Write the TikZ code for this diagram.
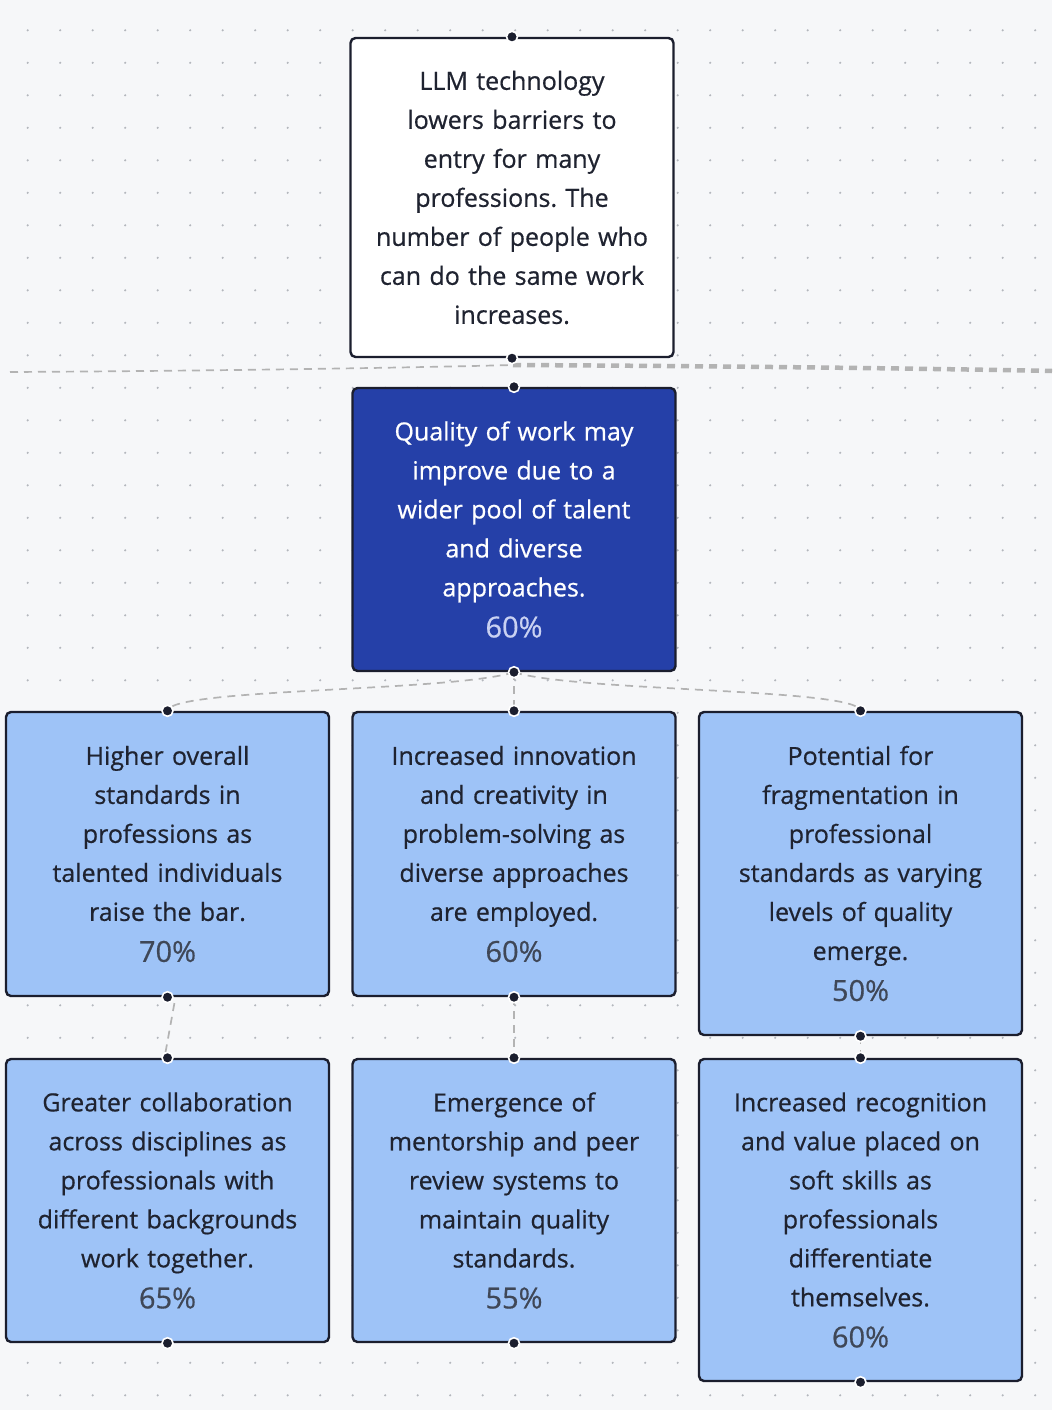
\documentclass[tikz,border=0pt]{standalone}
\usepackage{fontspec}
\setmainfont{Open Sans}
\newfontfamily\cardface[FakeBold=0.6]{Open Sans}
\frenchspacing
\definecolor{canvas}{HTML}{F6F7F9}
\definecolor{gridgrey}{HTML}{B4B7BD}
\definecolor{cardline}{HTML}{1B1E2E}
\definecolor{deepblue}{HTML}{2540A8}
\definecolor{paleblue}{HTML}{9EC3F7}
\definecolor{inkdark}{HTML}{1F2330}
\definecolor{pctgrey}{HTML}{3F4757}
\definecolor{pctlight}{HTML}{C9D1F2}
\definecolor{linkgrey}{HTML}{B3B3B3}
\newcommand{\cardfont}{\cardface\fontsize{25}{39}\selectfont}
\newcommand{\pct}[2]{\\[2pt]{\color{#1}\fontsize{29}{39}\selectfont #2}}
\tikzset{
    card/.style={draw=cardline, line width=2.4pt, rounded corners=5pt, minimum width=323pt,
        text width=315pt, align=center, inner sep=0pt, font=\cardfont},
    rootcard/.style={card, fill=white, text=inkdark},
    maincard/.style={card, fill=deepblue, text=white},
    subcard/.style={card, fill=paleblue, text=inkdark},
    anchordot/.style={circle, fill=cardline, draw=white, line width=1.6pt, minimum size=11pt, inner sep=0pt},
    link/.style={draw=linkgrey, line width=1.7pt, dash pattern=on 8pt off 6pt},
    widelink/.style={draw=linkgrey, line width=4.5pt, dash pattern=on 8pt off 6pt},
}
\begin{document}
\begin{tikzpicture}[x=1pt, y=-1pt]
                \useasboundingbox (0,0) rectangle (1052,1410);
                \fill[canvas] (0,0) rectangle (1052,1410);
                % dotted canvas
                \foreach \gx in {0,...,31} {
                        \foreach \gy in {0,...,42} {
                                \fill[gridgrey] ({27.7+32.5*\gx},{30.3+32.5*\gy}) circle (1.2pt);
                            }
                    }

                \node[rootcard, minimum height=319pt] (premise) at (512,197.5)
                    {LLM technology\\lowers barriers to\\entry for many\\professions. The\\number of people who\\can do the same work\\increases.};
                \node[maincard, minimum height=283pt] (quality) at (514,529.5)
                    {Quality of work may\\improve due to a\\wider pool of talent\\and diverse\\approaches.\pct{pctlight}{60\%}};

                \node[subcard, minimum height=284pt] (higher) at (167.5,854)
                    {Higher overall\\standards in\\professions as\\talented individuals\\raise the bar.\pct{pctgrey}{70\%}};
                \node[subcard, minimum height=284pt] (innovation) at (514,854)
                    {Increased innovation\\and creativity in\\problem-solving as\\diverse approaches\\are employed.\pct{pctgrey}{60\%}};
                \node[subcard, minimum height=323pt] (fragment) at (860.5,873.5)
                    {Potential for\\fragmentation in\\professional\\standards as varying\\levels of quality\\emerge.\pct{pctgrey}{50\%}};

                \node[subcard, minimum height=283pt] (collab) at (167.5,1200.5)
                    {Greater collaboration\\across disciplines as\\professionals with\\different backgrounds\\work together.\pct{pctgrey}{65\%}};
                \node[subcard, minimum height=283pt] (mentor) at (514,1200.5)
                    {Emergence of\\mentorship and peer\\review systems to\\maintain quality\\standards.\pct{pctgrey}{55\%}};
                \node[subcard, minimum height=322pt] (softskill) at (860.5,1220)
                    {Increased recognition\\and value placed on\\soft skills as\\professionals\\differentiate\\themselves.\pct{pctgrey}{60\%}};

                % dashed line running across the canvas
                \coordinate (leftend) at (10,372);
                \coordinate (junction) at (513,365);
                \coordinate (rightend) at (1052,371);
                \draw[link] (leftend) .. controls (200,371) and (400,368) .. (junction);
                \draw[widelink] (junction) .. controls (700,366) and (900,368) .. (rightend);

                % fan out from the main card
                \draw[link] (quality.south) .. controls (450,692) and (170,688) .. (higher.north);
                \draw[link] (quality.south) -- (innovation.north);
                \draw[link] (quality.south) .. controls (578,692) and (858,688) .. (fragment.north);
                \draw[link, shorten >=6pt, shorten <=6pt] ([xshift=8pt]higher.south) -- ([xshift=-3pt]collab.north);
                \draw[link] (innovation.south) -- (mentor.north);
                \draw[link] (fragment.south) -- (softskill.north);

                % anchor points
                \foreach \n in {premise,quality,higher,innovation,fragment,collab,mentor,softskill} {
                        \node[anchordot] (\n-top) at (\n.north) {};
                        \node[anchordot] (\n-bot) at (\n.south) {};
                    }
            \end{tikzpicture}
\end{document}
